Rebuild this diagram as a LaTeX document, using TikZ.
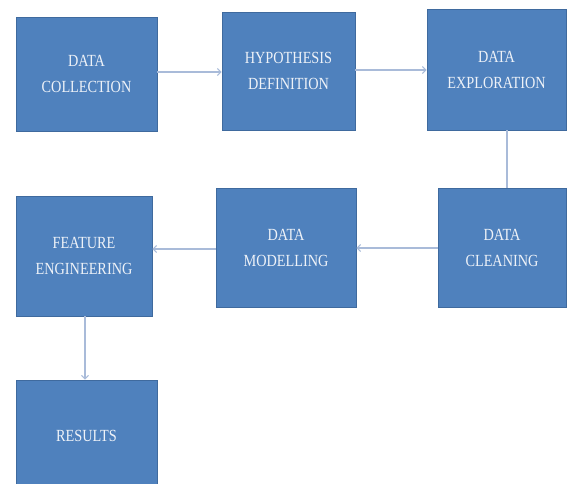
\documentclass[tikz,border=0pt]{standalone}
\usepackage{fontspec}
\newfontfamily\boxfont[FakeStretch=0.84]{Liberation Serif}
\usetikzlibrary{arrows.meta}
\definecolor{boxfill}{HTML}{4F81BD}
\definecolor{boxedge}{HTML}{3F6A9E}
\definecolor{boxtext}{HTML}{EEF2F8}
\definecolor{linkcol}{HTML}{A9BBD9}
\tikzset{
  stage/.style={draw=boxedge, line width=0.8pt, fill=boxfill, text=boxtext,
    align=center, inner sep=0pt,
    font=\boxfont\fontsize{17}{26}\selectfont},
  link/.style={draw=linkcol, line width=1.2pt,
    -{Straight Barb[length=3.5pt,width=7pt,line width=1pt]}},
  plainlink/.style={draw=linkcol, line width=1.2pt}
}
\begin{document}
\begin{tikzpicture}[x=1pt,y=-1pt]
\useasboundingbox[fill=white] (0,0) rectangle (567,484);
% first row
\node[stage, minimum width=141pt, minimum height=114pt] (collect) at (86.5,74) {DATA\\COLLECTION};
\node[stage, minimum width=133pt, minimum height=118pt] (hypo) at (288.5,71) {HYPOTHESIS\\DEFINITION};
\node[stage, minimum width=139pt, minimum height=121pt] (explore) at (496.5,69.5) {DATA\\EXPLORATION};
% second row
\node[stage, minimum width=128pt, minimum height=119pt] (clean) at (502,247.5) {DATA\\CLEANING};
\node[stage, minimum width=140pt, minimum height=119pt] (model) at (286,247.5) {DATA\\MODELLING};
\node[stage, minimum width=136pt, minimum height=120pt] (feature) at (84,256) {FEATURE\\ENGINEERING};
% last box, running off the lower edge
\node[stage, minimum width=141pt, minimum height=112pt] (results) at (86.5,436) {RESULTS};
% connectors
\draw[link] (collect.east |- 0,72) -- (hypo.west |- 0,72);
\draw[link] (hypo.east |- 0,70) -- (explore.west |- 0,70);
\draw[plainlink] (explore.south -| 507,0) -- (clean.north -| 507,0);
\draw[link] (clean.west |- 0,248) -- (model.east |- 0,248);
\draw[link] (model.west |- 0,249) -- (feature.east |- 0,249);
\draw[link] (feature.south -| 85,0) -- (results.north -| 85,0);
\end{tikzpicture}
\end{document}
